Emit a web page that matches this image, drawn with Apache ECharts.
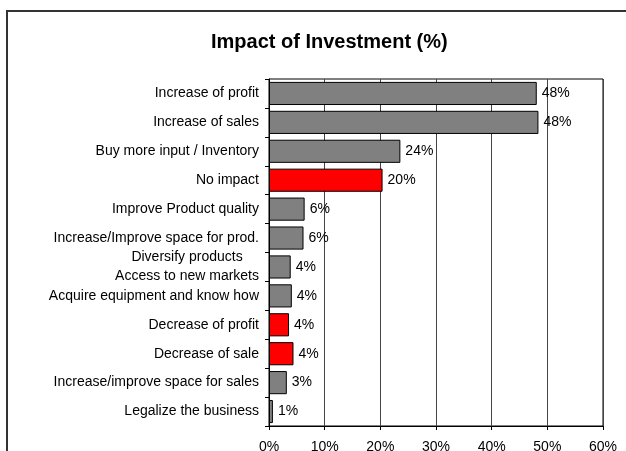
<!DOCTYPE html>
<html>
<head>
<meta charset="utf-8">
<title>Impact of Investment (%)</title>
<script src="https://cdn.jsdelivr.net/npm/echarts@6/dist/echarts.min.js"></script>
<style>
  html, body { margin: 0; padding: 0; background: #ffffff; }
  #chart { width: 626px; height: 451px; }
</style>
</head>
<body>
<div id="chart"></div>
<script>
// Survey answers, listed top to bottom
const categories = [
  'Increase of profit',
  'Increase of sales',
  'Buy more input / Inventory',
  'No impact',
  'Improve Product quality',
  'Increase/Improve space for prod.',
  'Diversify products\nAccess to new markets',
  'Acquire equipment and know how',
  'Decrease of profit',
  'Decrease of sale',
  'Increase/improve space for sales',
  'Legalize the business'
];

// Share of respondents (%)
const shares = [48.1, 48.4, 23.6, 20.4, 6.4, 6.2, 3.9, 4.1, 3.6, 4.4, 3.2, 0.7];

// Negative / no-effect answers are highlighted
const highlighted = [false, false, false, true, false, false, false, false, true, true, false, false];

// Value axis ticks
const axisMin = 0;
const axisMax = 60;
const axisStep = 10;

const FONT = '"Liberation Sans", Arial, sans-serif';

const chart = echarts.init(document.getElementById('chart'), null, { renderer: 'canvas' });

chart.setOption({
  animation: false,
  backgroundColor: '#ffffff',
  title: {
    text: 'Impact of Investment (%)',
    left: 206,
    top: 27,
    textStyle: { fontFamily: FONT, fontSize: 20, fontWeight: 'bold', color: '#000' }
  },
  graphic: [{
    type: 'polyline',
    shape: { points: [[7, 451], [7, 11], [626, 11]] },
    style: { stroke: '#333', lineWidth: 2, fill: null },
    silent: true
  }],
  grid: {
    left: 269, right: 23, top: 79, bottom: 25,
    show: true, borderColor: '#000', borderWidth: 1,
    containLabel: false,
    outerBoundsMode: 'none'
  },
  xAxis: {
    type: 'value',
    min: axisMin,
    max: axisMax,
    interval: axisStep,
    axisLine: { show: true, lineStyle: { color: '#000', width: 1 } },
    axisTick: { show: true, length: 4, lineStyle: { color: '#000' } },
    axisLabel: {
      margin: 14,
      formatter: '{value}%',
      fontFamily: FONT, fontSize: 14, color: '#000'
    },
    splitLine: { show: true, lineStyle: { color: '#444', width: 1 } }
  },
  yAxis: {
    type: 'category',
    inverse: true,
    data: categories,
    axisLine: { show: true, lineStyle: { color: '#000', width: 1 } },
    axisTick: { show: true, length: 4, inside: false, lineStyle: { color: '#000' } },
    axisLabel: {
      margin: 10,
      interval: 0,
      fontFamily: FONT, fontSize: 14, color: '#000', lineHeight: 19,
      formatter: function (v) {
        if (v.indexOf('\n') < 0) return v;
        return v.split('\n').map(function (s) { return '{c|' + s + '}'; }).join('\n');
      },
      rich: {
        c: { align: 'center', fontFamily: FONT, fontSize: 14, color: '#000', lineHeight: 19 }
      }
    },
    splitLine: { show: false }
  },
  series: [{
    type: 'bar',
    barCategoryGap: '20%',
    data: shares.map(function (v, i) {
      return {
        value: v,
        itemStyle: { color: highlighted[i] ? '#ff0000' : '#808080' }
      };
    }),
    itemStyle: { borderColor: '#000', borderWidth: 1 },
    label: {
      show: true,
      position: 'right',
      distance: 5,
      fontFamily: FONT, fontSize: 14, color: '#000',
      formatter: function (p) { return Math.round(p.value) + '%'; }
    }
  }]
});
</script>
</body>
</html>
